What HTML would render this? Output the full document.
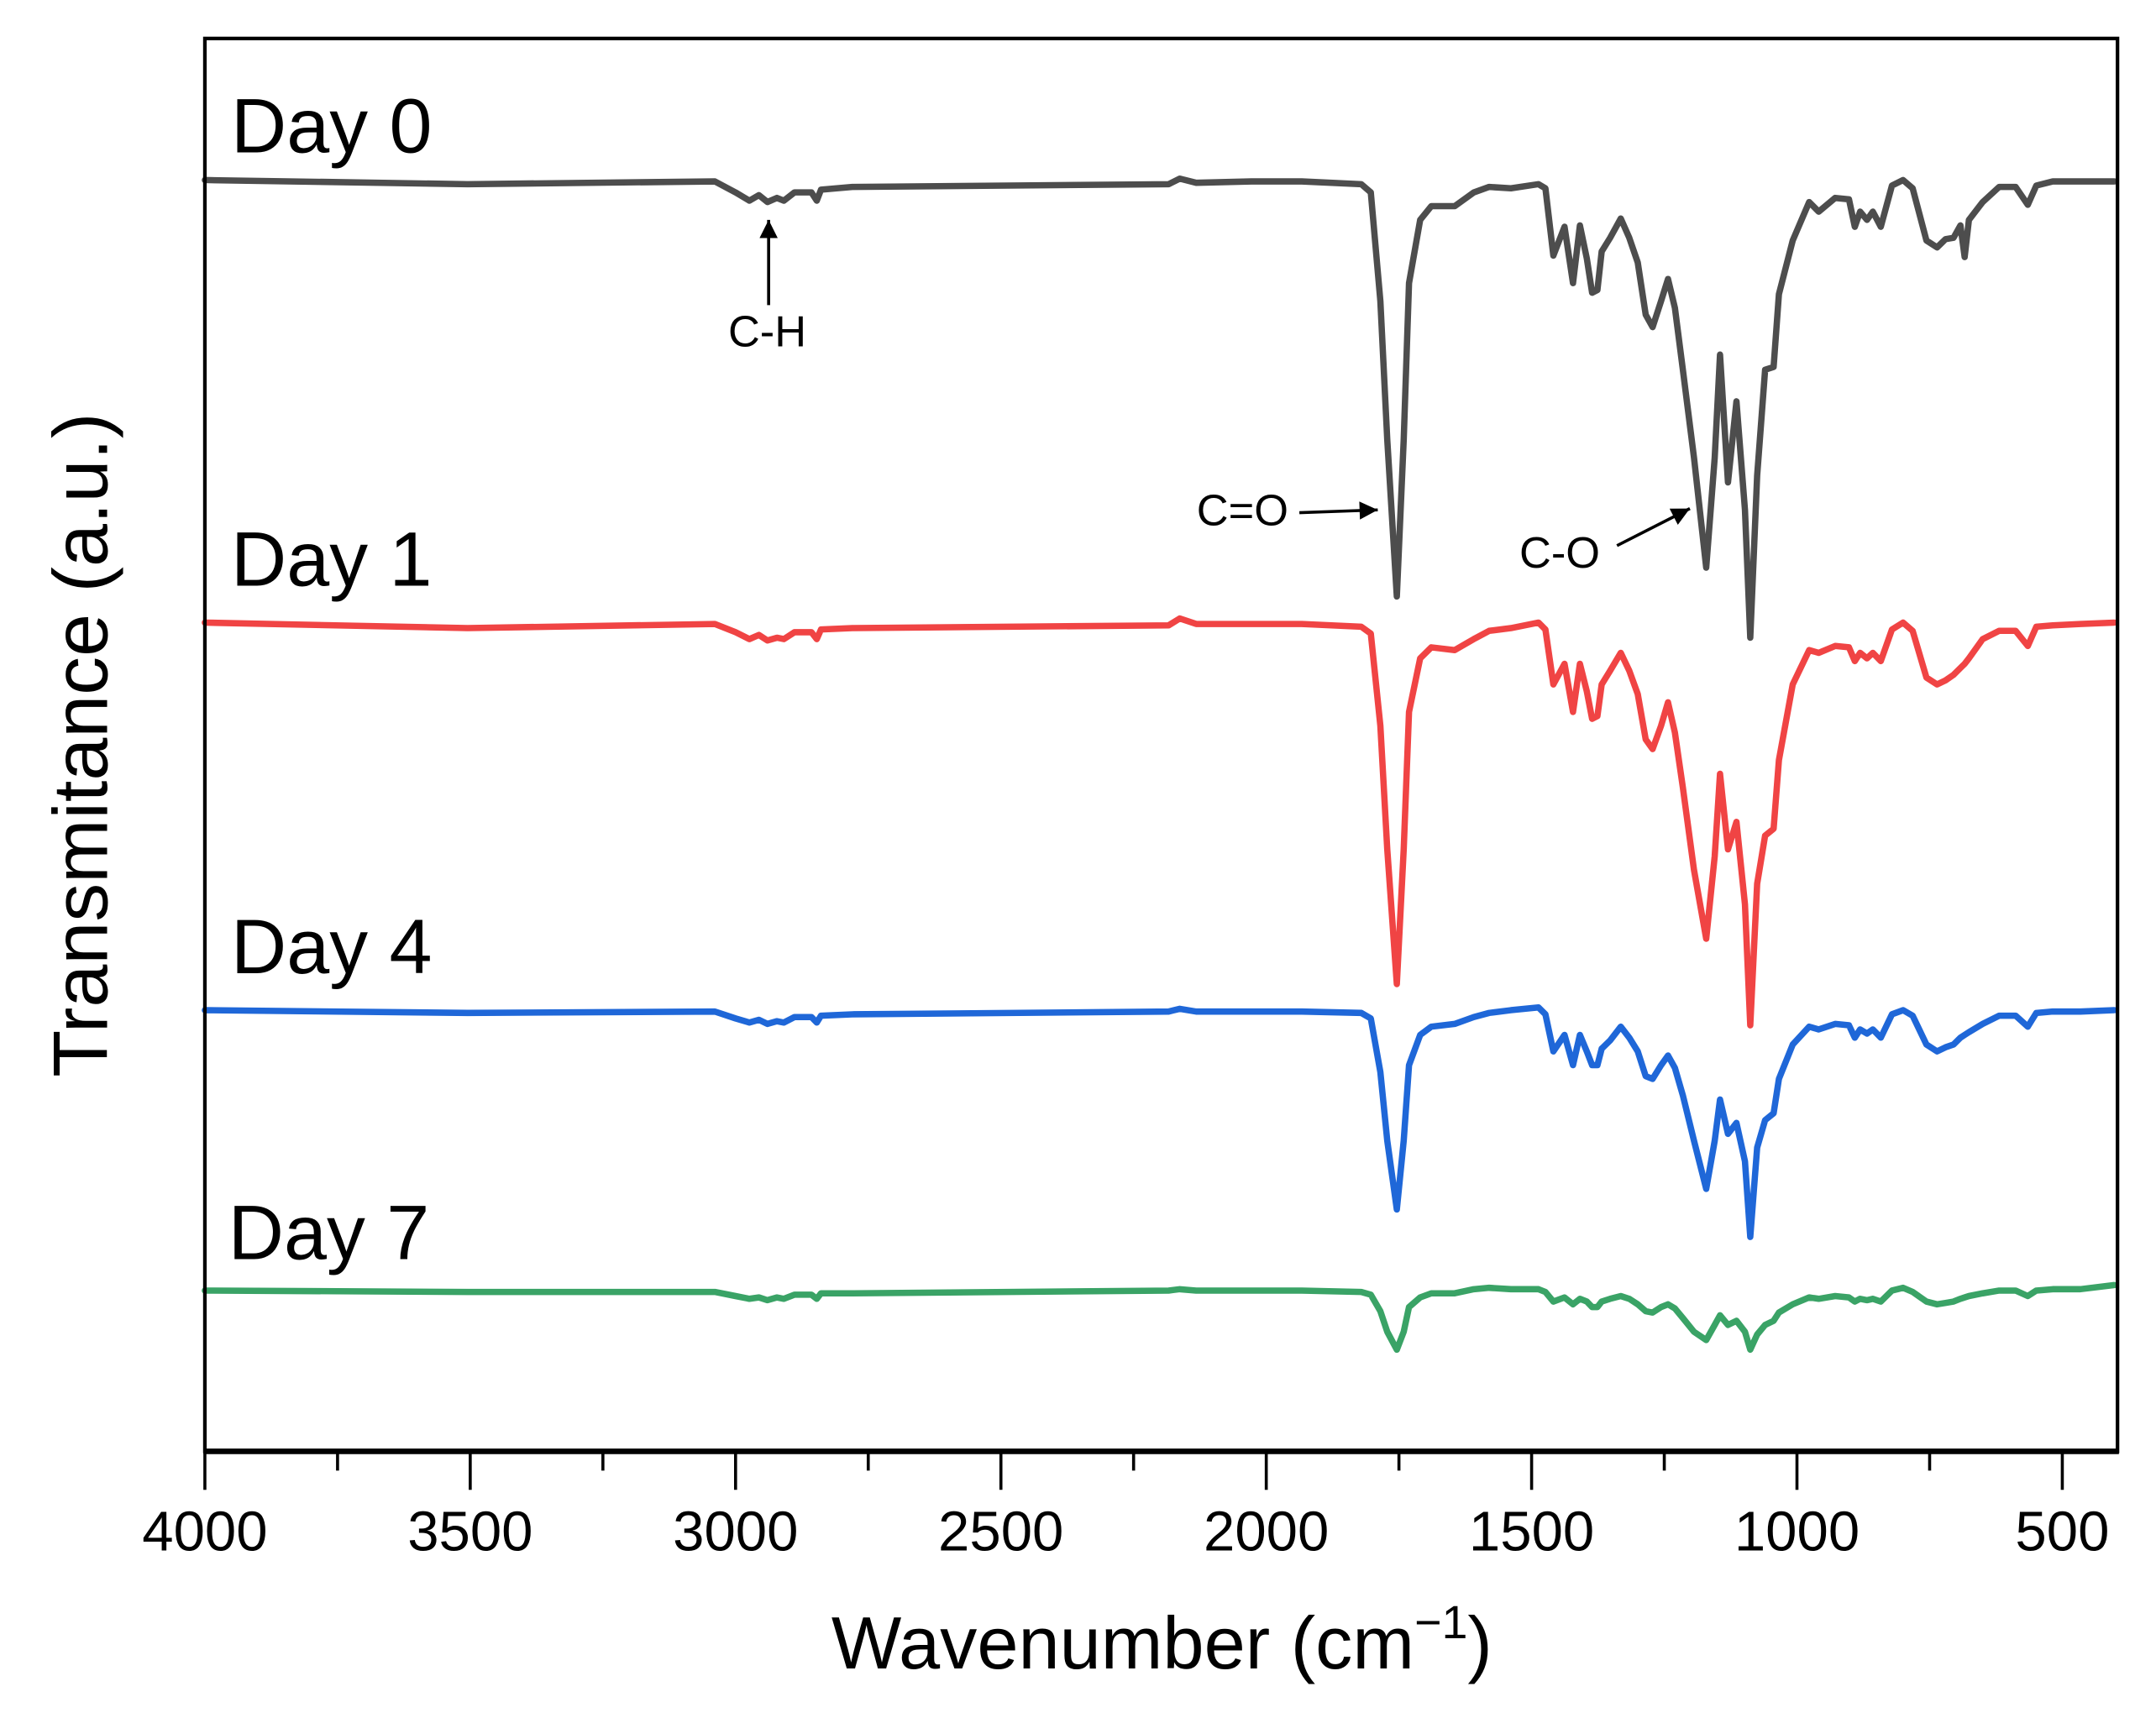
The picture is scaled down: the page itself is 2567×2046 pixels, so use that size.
<!DOCTYPE html>
<html><head><meta charset="utf-8"><style>
html,body{margin:0;padding:0;background:#fff;}
svg{display:block;}
text{font-family:"Liberation Sans",Arial,sans-serif;}
</style></head><body>
<svg id="chart" width="2567" height="2046" viewBox="0 0 1568 1250" preserveAspectRatio="none" xmlns="http://www.w3.org/2000/svg">
<defs><marker id="ah" viewBox="0 0 10 10" refX="10" refY="5" markerWidth="8" markerHeight="6" orient="auto" markerUnits="strokeWidth"><path d="M0,0 L10,5 L0,10 z" fill="#000"/></marker></defs>
<g id="series"></g>
<rect x="149" y="28" width="1391" height="1028" fill="none" stroke="#000" stroke-width="2.6"/>
<line x1="148" y1="1056" x2="1541" y2="1056" stroke="#000" stroke-width="4"/>
<g id="ticks"></g>
<text x="845" y="1214" font-size="54" text-anchor="middle">Wavenumber (cm<tspan font-size="34" dy="-22">−1</tspan><tspan dy="22">)</tspan></text>
<text transform="translate(78,542) rotate(-90)" font-size="56" text-anchor="middle">Transmitance (a.u.)</text>
<text x="168" y="111" font-size="56">Day 0</text>
<text x="168" y="426" font-size="56">Day 1</text>
<text x="168" y="708" font-size="56">Day 4</text>
<text x="166" y="916" font-size="56">Day 7</text>
<text x="558" y="252" font-size="32" text-anchor="middle">C-H</text>
<line x1="559" y1="222" x2="559" y2="160" stroke="#000" stroke-width="2.2" marker-end="url(#ah)"/>
<text x="937" y="382" font-size="32" text-anchor="end">C=O</text>
<line x1="945" y1="373" x2="1002" y2="371" stroke="#000" stroke-width="2.2" marker-end="url(#ah)"/>
<text x="1105" y="413" font-size="32">C-O</text>
<line x1="1176" y1="397" x2="1229" y2="370" stroke="#000" stroke-width="2.2" marker-end="url(#ah)"/>
</svg>
<script>
const wavenumbers=[4000,3505,3039,3000,2974,2956,2940,2922,2909,2889,2857,2847,2839,2780,2184,2163,2132,2028,1933,1821,1803,1785,1772,1754,1741,1731,1710,1689,1645,1609,1580,1539,1487,1474,1459,1438,1422,1409,1396,1386,1376,1368,1352,1332,1316,1300,1285,1272,1256,1243,1230,1215,1194,1171,1155,1145,1130,1114,1098,1088,1075,1060,1044,1034,1008,977,959,928,902,891,881,868,857,842,821,800,782,756,736,720,705,692,684,676,650,619,588,565,549,518,466,402];
const seriesNames=["Day 0","Day 1","Day 4","Day 7"];
const seriesOffsets=[925,603,321,117];
const day0Depth=[0,3,1,9,15,11,16,13,15,9,9,15,7,5,3,-1,2,1,1,3,9,88,189,303,189,75,29,19,19,9,5,6,3,6,55,34,75,33,57,82,80,52,42,28,42,60,98,107,88,72,93,138,202,282,202,127,220,161,240,333,215,138,136,83,44,16,23,13,14,34,23,29,23,34,4,0,6,44,49,43,42,33,56,29,16,5,5,18,4,1,1,1];
const day1Depth=[0,4,1,7,12,9,13,11,12,7,7,12,5,4,2,-3,1,1,1,3,8,75,165,263,165,65,26,18,20,12,6,4,0,5,45,30,65,30,50,70,68,45,35,22,35,52,85,92,75,58,80,120,180,230,170,110,165,145,205,293,190,155,150,100,45,20,22,17,18,28,22,26,22,28,5,0,6,40,45,42,38,33,30,26,12,6,6,17,3,2,1,0];
const day4Depth=[0,2,1,6,9,7,10,8,9,5,5,9,4,3,1,-1,1,1,1,2,6,45,95,145,95,40,18,12,10,5,2,0,-2,3,30,18,40,18,30,40,40,28,22,12,20,30,48,50,40,33,42,62,95,130,95,65,90,82,110,165,100,80,75,50,25,12,14,10,11,20,14,17,14,20,3,0,4,25,30,27,25,20,18,16,10,4,4,12,2,1,1,0];
const day7Depth=[0,1,1,4,6,5,7,5,6,3,3,6,2,2,0,-1,0,0,0,1,3,15,30,43,30,12,5,2,2,-1,-2,-1,-1,1,8,5,10,6,8,12,12,8,6,4,6,10,15,16,12,10,13,20,30,36,25,18,25,22,30,43,32,25,22,16,10,5,6,4,5,8,6,7,6,8,0,-2,1,8,10,9,8,6,5,4,2,0,0,4,0,-1,-1,-4];
const tickMajor=[4000,3500,3000,2500,2000,1500,1000,500];
const tickMinor=[3750,3250,2750,2250,1750,1250,750];
const depths=[day0Depth,day1Depth,day4Depth,day7Depth];
const colors=["#4d4d4d","#f04444","#1f67d8","#3aa366"];
const NS="http://www.w3.org/2000/svg";
const X0=149,X1=1540,W0=4000,W1=396,Y0=1056,Y1=28,V0=0,V1=1028;
function xs(w){return X0+(W0-w)*(X1-X0)/(W0-W1);}
function ys(v){return Y0+(v-V0)*(Y1-Y0)/(V1-V0);}
const g=document.getElementById('series');
depths.forEach((d,i)=>{
  let pts=wavenumbers.map((w,j)=>xs(w).toFixed(2)+','+ys(seriesOffsets[i]-d[j]).toFixed(2));
  const p=document.createElementNS(NS,'polyline');
  p.setAttribute('points',pts.join(' '));
  p.setAttribute('fill','none');p.setAttribute('stroke',colors[i]);
  p.setAttribute('stroke-width','4.6');p.setAttribute('stroke-linejoin','round');p.setAttribute('stroke-linecap','round');
  
  
  g.appendChild(p);
});
const t=document.getElementById('ticks');
tickMajor.forEach(w=>{
  const l=document.createElementNS(NS,'line');
  l.setAttribute('x1',xs(w));l.setAttribute('x2',xs(w));l.setAttribute('y1',1056);l.setAttribute('y2',1084);
  l.setAttribute('stroke','#000');l.setAttribute('stroke-width','2.2');
  
  
  t.appendChild(l);
  const tx=document.createElementNS(NS,'text');
  tx.setAttribute('x',xs(w));tx.setAttribute('y',1128);tx.setAttribute('font-size','41');tx.setAttribute('text-anchor','middle');
  tx.textContent=String(w);
  
  
  t.appendChild(tx);
});
tickMinor.forEach(w=>{
  const l=document.createElementNS(NS,'line');
  l.setAttribute('x1',xs(w));l.setAttribute('x2',xs(w));l.setAttribute('y1',1056);l.setAttribute('y2',1070);
  l.setAttribute('stroke','#000');l.setAttribute('stroke-width','2.2');
  
  
  t.appendChild(l);
});
</script>
</body></html>
